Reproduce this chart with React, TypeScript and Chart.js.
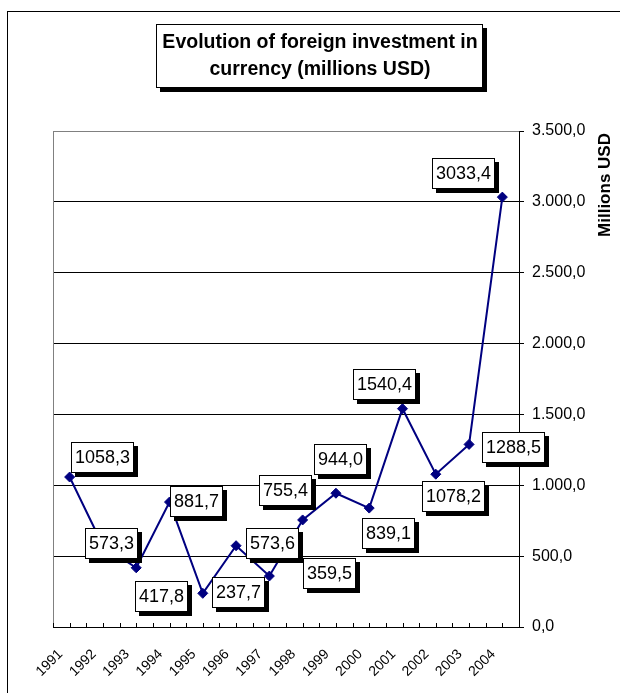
import React, { useEffect, useRef } from 'react';
import { Chart, registerables } from 'chart.js';

Chart.register(...registerables);

// ---------- data ----------
const YEARS: string[] = ['1991', '1992', '1993', '1994', '1995', '1996', '1997', '1998', '1999', '2000', '2001', '2002', '2003', '2004'];
const INVESTMENT: number[] = [1058.3, 573.3, 417.8, 881.7, 237.7, 573.6, 359.5, 755.4, 944.0, 839.1, 1540.4, 1078.2, 1288.5, 3033.4];
const Y_MIN = 0;
const Y_MAX = 3500;
const Y_STEP = 500;
const TITLE_LINES: string[] = ['Evolution of foreign investment in', 'currency (millions USD)'];
const Y_TITLE = 'Millions USD';

// ---------- style ----------
// centre of each value-label box, relative to its point (pixels)
const LABEL_OFFSETS: [number, number][] = [
  [33, -20], [9, -2], [25, 29], [27, -1], [36, -1], [36, -2], [60, -3],
  [-17, -29], [5, -34], [19, 25], [-18, -24], [18, 22], [44, 3], [-39, -24],
];
const FONT = '"Liberation Sans", Arial, Helvetica, sans-serif';
const NAVY = '#000080';

const fmtLabel = (v: number) => v.toFixed(1).replace('.', ',');
const fmtTick = (v: number) => {
  const [i, d] = v.toFixed(1).split('.');
  return i.replace(/\B(?=(\d{3})+(?!\d))/g, '.') + ',' + d;
};

const drawShadowBox = (ctx: CanvasRenderingContext2D, x: number, y: number, w: number, h: number, sh: number) => {
  ctx.fillStyle = '#000';
  ctx.fillRect(x + sh, y + sh, w, h);
  ctx.fillStyle = '#fff';
  ctx.fillRect(x, y, w, h);
  ctx.strokeStyle = '#000';
  ctx.lineWidth = 1;
  ctx.strokeRect(x + 0.5, y + 0.5, w - 1, h - 1);
};

const decorPlugin = {
  id: 'decor',
  beforeDraw(chart: any) {
    const ctx: CanvasRenderingContext2D = chart.ctx;
    ctx.save();
    ctx.fillStyle = '#fff';
    ctx.fillRect(0, 0, chart.width, chart.height);
    // outer frame
    ctx.strokeStyle = '#000';
    ctx.lineWidth = 1;
    ctx.strokeRect(7.5, 11.5, chart.width + 40, chart.height + 40);
    // title box
    drawShadowBox(ctx, 156, 24, 327, 64, 4);
    ctx.fillStyle = '#000';
    ctx.font = `bold 19.5px ${FONT}`;
    ctx.textAlign = 'center';
    ctx.textBaseline = 'alphabetic';
    ctx.fillText(TITLE_LINES[0], 320, 48);
    ctx.fillText(TITLE_LINES[1], 320, 75);
    ctx.restore();
  },
  beforeDatasetsDraw(chart: any) {
    const ctx: CanvasRenderingContext2D = chart.ctx;
    const { left, top, bottom } = chart.chartArea;
    const xs = chart.scales.x;
    ctx.save();
    // gray plot-area border (left)
    ctx.strokeStyle = '#808080';
    ctx.lineWidth = 1;
    ctx.beginPath();
    ctx.moveTo(Math.round(left) + 0.5, Math.round(top));
    ctx.lineTo(Math.round(left) + 0.5, Math.round(bottom));
    ctx.stroke();
    // inside tick marks on the category axis
    const half = (xs.getPixelForValue(1) - xs.getPixelForValue(0)) / 2;
    ctx.strokeStyle = '#000';
    ctx.beginPath();
    for (let i = 0; i < YEARS.length; i++) {
      const c = xs.getPixelForValue(i);
      for (const px of [c - half, c]) {
        const xx = Math.round(px) + 0.5;
        ctx.moveTo(xx, bottom);
        ctx.lineTo(xx, bottom - 4);
      }
    }
    const lastX = Math.round(xs.getPixelForValue(YEARS.length - 1) + half) + 0.5;
    ctx.moveTo(lastX, bottom);
    ctx.lineTo(lastX, bottom - 4);
    ctx.stroke();
    ctx.restore();
  },
  afterDraw(chart: any) {
    const ctx: CanvasRenderingContext2D = chart.ctx;
    const meta = chart.getDatasetMeta(0);
    ctx.save();
    ctx.font = `18px ${FONT}`;
    ctx.textAlign = 'center';
    ctx.textBaseline = 'middle';
    meta.data.forEach((pt: any, i: number) => {
      const text = fmtLabel(INVESTMENT[i]);
      const tw = ctx.measureText(text).width;
      const w = Math.round(tw + 8);
      const h = 31;
      const [dx, dy] = LABEL_OFFSETS[i];
      const cx = pt.x + dx;
      const cy = pt.y + dy;
      const bx = Math.round(cx - w / 2);
      const by = Math.round(cy - h / 2);
      drawShadowBox(ctx, bx, by, w, h, 4);
      ctx.fillStyle = '#000';
      ctx.fillText(text, bx + w / 2, by + h / 2 + 1);
    });
    // y-axis title (reads bottom to top)
    ctx.font = `bold 17px ${FONT}`;
    ctx.textAlign = 'center';
    ctx.textBaseline = 'alphabetic';
    ctx.translate(610, 185);
    ctx.rotate(-Math.PI / 2);
    ctx.fillText(Y_TITLE, 0, 0);
    ctx.restore();
  },
};

export default function App() {
  const ref = useRef<HTMLCanvasElement | null>(null);

  useEffect(() => {
    if (!ref.current) return;
    const chart = new Chart(ref.current, {
      type: 'line',
      data: {
        labels: YEARS,
        datasets: [
          {
            data: INVESTMENT,
            borderColor: NAVY,
            borderWidth: 2,
            backgroundColor: NAVY,
            pointStyle: 'rectRot',
            pointRadius: 5,
            pointBackgroundColor: NAVY,
            pointBorderColor: NAVY,
            pointBorderWidth: 1,
            tension: 0,
            fill: false,
          },
        ],
      },
      options: {
        animation: false,
        responsive: false,
        devicePixelRatio: window.devicePixelRatio || 1,
        layout: { padding: { left: 53, top: 131, right: 0, bottom: 0 } },
        plugins: {
          legend: { display: false },
          title: { display: false },
          tooltip: { enabled: false },
        },
        scales: {
          x: {
            type: 'category',
            offset: true,
            grid: { drawOnChartArea: false, drawTicks: false },
            border: { display: true, color: '#000', width: 1 },
            ticks: {
              autoSkip: false,
              minRotation: 45,
              maxRotation: 45,
              padding: 19,
              labelOffset: -9,
              color: '#000',
              font: { family: FONT, size: 14 },
            },
            afterFit: (s: any) => {
              s.height = 66;
              s.paddingLeft = 0;
              s.paddingRight = 0;
            },
          },
          y: {
            position: 'right',
            min: Y_MIN,
            max: Y_MAX,
            grid: {
              drawOnChartArea: true,
              drawTicks: true,
              tickLength: 5,
              tickColor: '#000',
              color: (c: any) => (c.tick && c.tick.value === Y_MAX ? '#808080' : '#000'),
              lineWidth: 1,
            },
            border: { display: true, color: '#000', width: 1 },
            ticks: {
              stepSize: Y_STEP,
              padding: 8,
              color: '#000',
              font: { family: FONT, size: 16 },
              callback: (v: any) => fmtTick(Number(v)),
            },
            afterFit: (s: any) => {
              s.width = 101;
              s.paddingTop = 0;
              s.paddingBottom = 0;
            },
          },
        },
      },
      plugins: [decorPlugin],
    });
    return () => chart.destroy();
  }, []);

  return (
    <div style={{ position: 'fixed', left: 0, top: 0, width: 620, height: 693, background: '#fff' }}>
      <canvas ref={ref} width={620} height={693} style={{ display: 'block', width: 620, height: 693 }} />
    </div>
  );
}
